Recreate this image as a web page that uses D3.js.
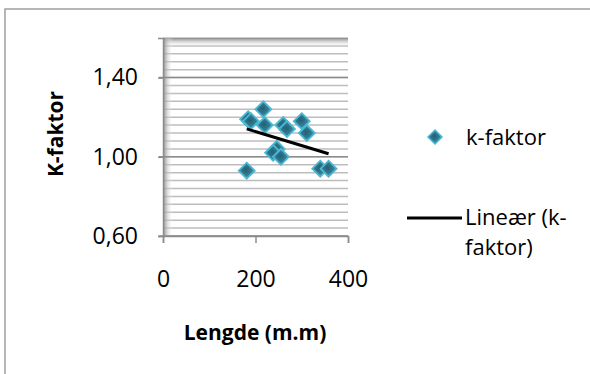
<!DOCTYPE html>
<html>
<head>
<meta charset="utf-8">
<script src="https://cdn.jsdelivr.net/npm/d3@7"></script>
<style>
  body { margin: 0; background: #fff; }
  text { font-family: "Open Sans", "Liberation Sans", sans-serif; fill: #000; }
</style>
</head>
<body>
<script>
// data
var lengde  = [181, 184, 190, 217, 220, 246, 238, 255, 260, 268, 300, 311, 340, 358];
var kfaktor = [0.93, 1.19, 1.18, 1.24, 1.16, 1.04, 1.02, 1.00, 1.16, 1.14, 1.18, 1.12, 0.94, 0.94];
var xTicks = [0, 200, 400];
var yTicks = [0.6, 1.0, 1.4];
var seriesName = "k-faktor";
var trendName = ["Lineær (k-", "faktor)"];

var svg = d3.select("body").append("svg")
    .attr("width", 590)
    .attr("height", 374);

// outer chart frame
svg.append("rect")
    .attr("x", 5).attr("y", 9)
    .attr("width", 600).attr("height", 400)
    .attr("fill", "#fff")
    .attr("stroke", "#a0a0a0")
    .attr("stroke-width", 1.5);

var plot = {left: 163, right: 348, top: 38, bottom: 236};

var x = d3.scaleLinear().domain([0, 400]).range([plot.left, plot.right]);
var y = d3.scaleLinear().domain([0.6, 1.6]).range([plot.bottom, plot.top]);

var defs = svg.append("defs");
var lg = defs.append("linearGradient").attr("id", "leftShade")
    .attr("x1", 0).attr("x2", 1).attr("y1", 0).attr("y2", 0);
lg.append("stop").attr("offset", 0).attr("stop-color", "#8a8a8a");
lg.append("stop").attr("offset", 1).attr("stop-color", "#fff").attr("stop-opacity", 0);
var tg = defs.append("linearGradient").attr("id", "topShade")
    .attr("x1", 0).attr("x2", 0).attr("y1", 0).attr("y2", 1);
tg.append("stop").attr("offset", 0).attr("stop-color", "#8a8a8a");
tg.append("stop").attr("offset", 1).attr("stop-color", "#fff").attr("stop-opacity", 0);
var mg = defs.append("radialGradient").attr("id", "marker")
    .attr("cx", "45%").attr("cy", "45%").attr("r", "60%");
mg.append("stop").attr("offset", 0).attr("stop-color", "#235f73");
mg.append("stop").attr("offset", 0.6).attr("stop-color", "#337f96");
mg.append("stop").attr("offset", 1).attr("stop-color", "#4bacc6");

var g = svg.append("g");

// minor grid lines every 0.04
var minor = d3.range(0, 26).map(function(i) { return 0.6 + i * 0.04; });
g.selectAll(".minor").data(minor).enter().append("line")
    .attr("x1", plot.left).attr("x2", plot.right)
    .attr("y1", function(d) { return y(d); })
    .attr("y2", function(d) { return y(d); })
    .attr("stroke", "#bdbdbd").attr("stroke-width", 1.5);

// shading along top and left edges
g.append("rect").attr("x", plot.left).attr("y", plot.top)
    .attr("width", plot.right - plot.left).attr("height", 9)
    .attr("fill", "url(#topShade)");
g.append("rect").attr("x", plot.left).attr("y", plot.top)
    .attr("width", 10).attr("height", plot.bottom - plot.top)
    .attr("fill", "url(#leftShade)");

// major grid lines
g.selectAll(".major").data(yTicks).enter().append("line")
    .attr("x1", plot.left - 4).attr("x2", plot.right)
    .attr("y1", function(d) { return y(d); })
    .attr("y2", function(d) { return y(d); })
    .attr("stroke", "#8c8c8c").attr("stroke-width", 1.5);

// y axis
var yAxis = g.append("g")
    .attr("transform", "translate(" + plot.left + ",0)")
    .call(d3.axisLeft(y).tickValues(yTicks).tickSize(5)
        .tickFormat(function(d) { return d3.format(".2f")(d).replace(".", ","); }));
yAxis.select(".domain").attr("stroke", "#8c8c8c").attr("stroke-width", 1.5);
yAxis.selectAll(".tick line").attr("stroke", "#8c8c8c").attr("stroke-width", 1.5);
yAxis.selectAll(".tick text")
    .attr("x", -25)
    .style("font-size", "23px")
    .style("font-family", "'Open Sans', sans-serif")
    .attr("fill", "#000");

// x axis
var xAxis = g.append("g")
    .attr("transform", "translate(0," + plot.bottom + ")")
    .call(d3.axisBottom(x).tickValues(xTicks).tickSize(7));
xAxis.select(".domain").attr("stroke", "#8c8c8c").attr("stroke-width", 1.5);
xAxis.selectAll(".tick line").attr("stroke", "#8c8c8c").attr("stroke-width", 1.5);
xAxis.selectAll(".tick text")
    .attr("y", 35)
    .style("font-size", "23px")
    .style("font-family", "'Open Sans', sans-serif")
    .attr("fill", "#000");

// points
var pts = lengde.map(function(d, i) { return {x: d, y: kfaktor[i]}; });
var diamond = "M0,-8L8,0L0,8L-8,0Z";
g.selectAll(".pt").data(pts).enter().append("path")
    .attr("d", diamond)
    .attr("transform", function(d) { return "translate(" + x(d.x) + "," + y(d.y) + ")"; })
    .attr("fill", "url(#marker)")
    .attr("stroke", "#4bb8d4").attr("stroke-width", 1.8);

// linear trend line (least squares)
var mx = d3.mean(lengde), my = d3.mean(kfaktor);
var sxy = d3.sum(pts, function(d) { return (d.x - mx) * (d.y - my); });
var sxx = d3.sum(pts, function(d) { return (d.x - mx) * (d.x - mx); });
var slope = sxy / sxx, icpt = my - slope * mx;
var ext = d3.extent(lengde);
g.append("line")
    .attr("x1", x(ext[0])).attr("y1", y(icpt + slope * ext[0]))
    .attr("x2", x(ext[1])).attr("y2", y(icpt + slope * ext[1]))
    .attr("stroke", "#000").attr("stroke-width", 3);

// axis titles
svg.append("text")
    .attr("transform", "translate(57,134) rotate(-90)")
    .attr("text-anchor", "middle")
    .attr("dominant-baseline", "middle")
    .style("font-size", "21px").style("font-weight", "bold")
    .text("K-faktor");
svg.append("text")
    .attr("x", 255).attr("y", 340)
    .attr("text-anchor", "middle")
    .style("font-size", "21px").style("font-weight", "bold")
    .text("Lengde (m.m)");

// legend
var leg = svg.append("g");
leg.append("path").attr("d", "M0,-7L7,0L0,7L-7,0Z")
    .attr("transform", "translate(435,137)")
    .attr("fill", "url(#marker)")
    .attr("stroke", "#4bb8d4").attr("stroke-width", 1.5);
leg.append("text").attr("x", 466).attr("y", 145)
    .style("font-size", "22px").text(seriesName);
leg.append("line").attr("x1", 407).attr("x2", 462)
    .attr("y1", 218).attr("y2", 218)
    .attr("stroke", "#000").attr("stroke-width", 3);
leg.selectAll(".lt").data(trendName).enter().append("text")
    .attr("x", 465)
    .attr("y", function(d, i) { return 225 + i * 30; })
    .style("font-size", "22px")
    .text(function(d) { return d; });
</script>
</body>
</html>
